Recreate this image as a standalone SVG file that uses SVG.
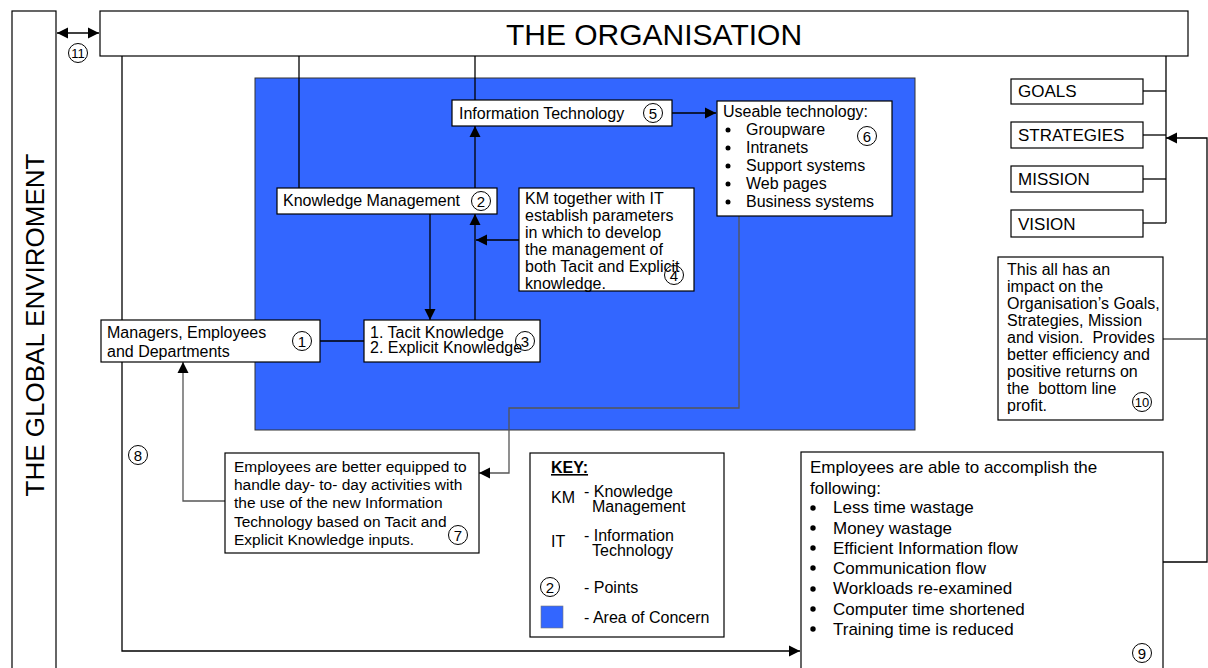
<svg xmlns="http://www.w3.org/2000/svg" width="1208" height="668" viewBox="0 0 1208 668">
  <style>
    .box { fill: #ffffff; stroke: #000000; stroke-width: 1.2; }
    .t { font-family: "Liberation Sans", Arial, sans-serif; font-size: 16px; fill: #000000; white-space: pre; }
    .t155 { font-family: "Liberation Sans", Arial, sans-serif; font-size: 15.5px; fill: #000000; }
    .t17 { font-family: "Liberation Sans", Arial, sans-serif; font-size: 17px; fill: #000000; }
    .num { font-family: "Liberation Sans", Arial, sans-serif; font-size: 15px; fill: #000000; text-anchor: middle; }
    .ring { fill: none; stroke: #000000; stroke-width: 1; }
    .ln { fill: none; stroke: #000000; stroke-width: 1.3; }
    .lg { fill: none; stroke: #555555; stroke-width: 1.3; }
    .arr { marker-end: url(#ah); }
  </style>
  <defs>
    <marker id="ah" viewBox="0 0 10 10" refX="10" refY="5" markerWidth="11" markerHeight="12" markerUnits="userSpaceOnUse" orient="auto">
      <path d="M0,0 L10,5 L0,10 Z" fill="#000000"/>
    </marker>
    <marker id="ahs" viewBox="0 0 10 10" refX="0" refY="5" markerWidth="11" markerHeight="12" markerUnits="userSpaceOnUse" orient="auto">
      <path d="M10,0 L0,5 L10,10 Z" fill="#000000"/>
    </marker>
  </defs>

  <rect width="1208" height="668" fill="#ffffff"/>

  <!-- area of concern -->
  <rect id="area-of-concern" x="255" y="78" width="660" height="352" fill="#3366ff" stroke="#333333" stroke-width="1"/>

  <!-- connectors -->
  <g id="connectors">
    <line class="ln" x1="57" y1="33" x2="99" y2="33" marker-start="url(#ahs)" marker-end="url(#ah)"/>
    <polyline class="ln" points="299,56 299,188"/>
    <polyline class="ln" points="475,56 475,100"/>
    <polyline class="ln arr" points="475,188 475,126"/>
    <polyline class="ln arr" points="672,113 716,113"/>
    <polyline class="ln arr" points="475,320 475,214"/>
    <polyline class="ln arr" points="430,214 430,320"/>
    <polyline class="ln arr" points="519,240 476,240"/>
    <polyline class="ln" points="320,341 364,341"/>
    <polyline class="lg arr" points="739,216 739,408 509,408 509,473 479,473"/>
    <polyline class="lg arr" points="226,501 183,501 183,362"/>
    <polyline class="ln arr" points="122,56 122,651 800,651"/>
    <polyline class="ln" points="1166,56 1166,223"/>
    <line class="ln" x1="1143" y1="91" x2="1166" y2="91"/>
    <line class="ln" x1="1143" y1="135" x2="1166" y2="135"/>
    <line class="ln" x1="1143" y1="179" x2="1166" y2="179"/>
    <line class="ln" x1="1143" y1="223" x2="1166" y2="223"/>
    <polyline class="ln arr" points="1163,562 1207,562 1207,138 1166,138"/>
    <line class="lg" x1="1163" y1="339" x2="1207" y2="339"/>
  </g>

  <!-- global environment -->
  <g id="global-environment">
    <rect class="box" x="12" y="11" width="44" height="670"/>
    <text class="t" style="font-size:26px" text-anchor="middle" transform="translate(44,325) rotate(-90)">THE GLOBAL ENVIROMENT</text>
    <circle class="ring" cx="78" cy="53" r="9.5"/>
    <text class="num" style="font-size:13px" x="78" y="58">11</text>
  </g>

  <!-- organisation -->
  <g id="organisation">
    <rect class="box" x="100" y="11" width="1088" height="45" stroke-width="1.6"/>
    <text class="t" style="font-size:30px" x="654" y="45" text-anchor="middle">THE ORGANISATION</text>
  </g>

  <g id="information-technology">
    <rect class="box" x="452" y="100" width="220" height="26"/>
    <text class="t" x="459" y="119">Information Technology</text>
    <circle class="ring" cx="653" cy="113" r="9.5"/>
    <text class="num" x="653" y="118.5">5</text>
  </g>

  <g id="useable-technology">
    <rect class="box" x="717" y="101" width="175" height="115"/>
    <text class="t" x="723" y="117">Useable technology:</text>
    <circle cx="728" cy="130" r="2.5"/><circle cx="728" cy="148" r="2.5"/><circle cx="728" cy="166" r="2.5"/><circle cx="728" cy="184" r="2.5"/><circle cx="728" cy="202" r="2.5"/>
    <text class="t" x="746" y="135">Groupware</text>
    <text class="t" x="746" y="153">Intranets</text>
    <text class="t" x="746" y="171">Support systems</text>
    <text class="t" x="746" y="189">Web pages</text>
    <text class="t" x="746" y="207">Business systems</text>
    <circle class="ring" cx="867" cy="136" r="9.5"/>
    <text class="num" x="867" y="141.5">6</text>
  </g>

  <g id="knowledge-management">
    <rect class="box" x="277" y="188" width="220" height="26"/>
    <text class="t" x="283" y="206">Knowledge Management</text>
    <circle class="ring" cx="481" cy="201" r="9.5"/>
    <text class="num" x="481" y="206.5">2</text>
  </g>

  <g id="km-with-it">
    <rect class="box" x="519" y="188" width="175" height="103"/>
    <text class="t" x="525" y="204">KM together with IT</text>
    <text class="t" x="525" y="221">establish parameters</text>
    <text class="t" x="525" y="238">in which to develop</text>
    <text class="t" x="525" y="255">the management of</text>
    <text class="t" x="525" y="272">both Tacit and Explicit</text>
    <text class="t" x="525" y="289">knowledge.</text>
    <circle class="ring" cx="674" cy="275" r="9.5"/>
    <text class="num" x="674" y="280.5">4</text>
  </g>

  <g id="managers">
    <rect class="box" x="101" y="320" width="219" height="42"/>
    <text class="t" x="107" y="338">Managers, Employees</text>
    <text class="t" x="107" y="357">and Departments</text>
    <circle class="ring" cx="302" cy="341" r="9.5"/>
    <text class="num" x="302" y="346.5">1</text>
  </g>

  <g id="tacit-explicit">
    <rect class="box" x="364" y="320" width="176" height="42"/>
    <text class="t" x="370" y="338">1. Tacit Knowledge</text>
    <text class="t" x="370" y="353">2. Explicit Knowledge</text>
    <circle class="ring" cx="525" cy="341" r="9.5"/>
    <text class="num" x="525" y="346.5">3</text>
  </g>

  <g id="point-8">
    <circle class="ring" cx="138" cy="455" r="9.5"/>
    <text class="num" x="138" y="460.5">8</text>
  </g>

  <g id="better-equipped">
    <rect class="box" x="225" y="453" width="254" height="100"/>
    <text class="t155" x="234" y="472">Employees are better equipped to</text>
    <text class="t155" x="234" y="490">handle day- to- day activities with</text>
    <text class="t155" x="234" y="508">the use of the new Information</text>
    <text class="t155" x="234" y="527">Technology based on Tacit and</text>
    <text class="t155" x="234" y="545">Explicit Knowledge inputs.</text>
    <circle class="ring" cx="458" cy="535" r="9.5"/>
    <text class="num" x="458" y="540.5">7</text>
  </g>

  <g id="key">
    <rect class="box" x="530" y="453" width="194" height="184"/>
    <text class="t" x="551" y="473" font-weight="bold" text-decoration="underline">KEY:</text>
    <text class="t" x="551" y="503">KM</text>
    <text class="t" x="584" y="497">- Knowledge</text>
    <text class="t" x="592" y="512">Management</text>
    <text class="t" x="551" y="547">IT</text>
    <text class="t" x="584" y="541">- Information</text>
    <text class="t" x="592" y="556">Technology</text>
    <circle class="ring" cx="550" cy="587" r="9.5"/>
    <text class="num" x="550" y="592.5">2</text>
    <text class="t" x="584" y="593">- Points</text>
    <rect x="541" y="606" width="22" height="22" fill="#3366ff" stroke="#777777" stroke-width="0.6"/>
    <text class="t" x="584" y="623">- Area of Concern</text>
  </g>

  <g id="accomplish">
    <rect class="box" x="801" y="452" width="362" height="230"/>
    <text class="t17" x="810" y="473">Employees are able to accomplish the</text>
    <text class="t17" x="810" y="494">following:</text>
    <circle cx="813" cy="508" r="2.7"/><circle cx="813" cy="528" r="2.7"/><circle cx="813" cy="548" r="2.7"/><circle cx="813" cy="568" r="2.7"/><circle cx="813" cy="589" r="2.7"/><circle cx="813" cy="609" r="2.7"/><circle cx="813" cy="629" r="2.7"/>
    <text class="t17" x="833" y="513">Less time wastage</text>
    <text class="t17" x="833" y="534">Money wastage</text>
    <text class="t17" x="833" y="554">Efficient Information flow</text>
    <text class="t17" x="833" y="574">Communication flow</text>
    <text class="t17" x="833" y="594">Workloads re-examined</text>
    <text class="t17" x="833" y="615">Computer time shortened</text>
    <text class="t17" x="833" y="635">Training time is reduced</text>
    <circle class="ring" cx="1142" cy="653" r="9.5"/>
    <text class="num" x="1142" y="658.5">9</text>
  </g>

  <g id="impact">
    <rect class="box" x="998" y="257" width="165" height="163"/>
    <text class="t" x="1007" y="275">This all has an</text>
    <text class="t" x="1007" y="292">impact on the</text>
    <text class="t" x="1007" y="309">Organisation’s Goals,</text>
    <text class="t" x="1007" y="326">Strategies, Mission</text>
    <text class="t" x="1007" y="343">and vision.  Provides</text>
    <text class="t" x="1007" y="360">better efficiency and</text>
    <text class="t" x="1007" y="377">positive returns on</text>
    <text class="t" x="1007" y="394">the  bottom line</text>
    <text class="t" x="1007" y="411">profit.</text>
    <circle class="ring" cx="1142" cy="402" r="9.5"/>
    <text class="num" style="font-size:13px" x="1142" y="407">10</text>
  </g>

  <g id="goals">
    <rect class="box" x="1011" y="79" width="132" height="25"/>
    <text class="t17" x="1018" y="97">GOALS</text>
  </g>
  <g id="strategies">
    <rect class="box" x="1011" y="122" width="132" height="26"/>
    <text class="t17" x="1018" y="141">STRATEGIES</text>
  </g>
  <g id="mission">
    <rect class="box" x="1011" y="166" width="132" height="26"/>
    <text class="t17" x="1018" y="185">MISSION</text>
  </g>
  <g id="vision">
    <rect class="box" x="1011" y="210" width="132" height="27"/>
    <text class="t17" x="1018" y="230">VISION</text>
  </g>
</svg>
